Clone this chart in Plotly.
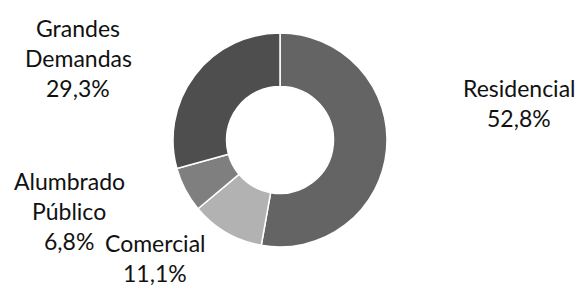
import plotly.graph_objects as go

categories = ["Residencial", "Comercial", "Alumbrado Público", "Grandes Demandas"]
values = [52.8, 11.1, 6.8, 29.3]
colors = ["#646464", "#b2b2b2", "#7f7f7f", "#4e4e4e"]

W, H = 583, 286
# label anchor (pixel x center, pixel y of first line center)
label_pos = {
    "Residencial": (519, 88),
    "Comercial": (155, 243),
    "Alumbrado Público": (69, 181),
    "Grandes Demandas": (78, 28),
}
line_gap = 30

fig = go.Figure()
fig.add_trace(go.Pie(
    labels=categories,
    values=values,
    sort=False,
    direction="clockwise",
    rotation=0,
    hole=0.5,
    marker=dict(colors=colors, line=dict(color="white", width=1.5)),
    textinfo="none",
    hoverinfo="label+percent",
    showlegend=False,
    domain=dict(x=[173 / W, 387 / W], y=[1 - 247 / H, 1 - 33 / H]),
))

for cat, val in zip(categories, values):
    lines = cat.split(" ") + [f"{val:.1f}".replace(".", ",") + "%"]
    px, py = label_pos[cat]
    for i, ln in enumerate(lines):
        fig.add_annotation(
            x=px / W, y=1 - (py + i * line_gap) / H,
            xref="paper", yref="paper",
            text=ln, showarrow=False,
            xanchor="center", yanchor="middle",
            font=dict(family="Lato", size=23, color="#111111"),
        )

fig.update_layout(
    width=W, height=H,
    margin=dict(l=0, r=0, t=0, b=0),
    paper_bgcolor="white",
    plot_bgcolor="white",
)

fig.write_html("out.html", config={"displayModeBar": False},
               post_script="document.body.style.margin='0';")
